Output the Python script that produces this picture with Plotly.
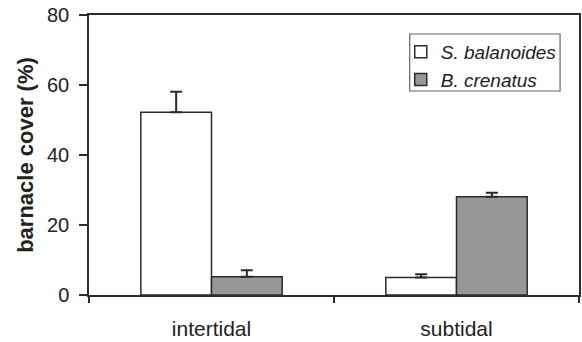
import plotly.graph_objects as go

categories = ["intertidal", "subtidal"]
s_balanoides = [52.2, 5.0]
s_balanoides_err = [5.9, 0.9]
b_crenatus = [5.2, 28.1]
b_crenatus_err = [1.9, 1.1]
y_ticks = [0, 20, 40, 60, 80]

line_col = "#2b2b2b"
font = "Liberation Sans, Arial, sans-serif"

fig = go.Figure()
fig.add_trace(go.Bar(
    x=categories, y=s_balanoides, name="S. balanoides",
    marker=dict(color="white", line=dict(color=line_col, width=1.5)),
    error_y=dict(type="data", array=s_balanoides_err, arrayminus=[0, 0], symmetric=False,
                 color=line_col, thickness=2, width=6),
))
fig.add_trace(go.Bar(
    x=categories, y=b_crenatus, name="B. crenatus",
    marker=dict(color="#979797", line=dict(color=line_col, width=1.5)),
    error_y=dict(type="data", array=b_crenatus_err, arrayminus=[0, 0], symmetric=False,
                 color=line_col, thickness=2, width=6),
))

fig.update_layout(
    width=582, height=342,
    margin=dict(l=89, r=1, t=15, b=47),
    paper_bgcolor="white", plot_bgcolor="white",
    barmode="group", bargap=0.423, bargroupgap=0,
    font=dict(family=font, size=20, color="#222"),
    showlegend=True,
    legend=dict(x=(402 - 89) / 492, y=(295 - 33) / 280, xanchor="left", yanchor="top",
                borderwidth=0, bgcolor="rgba(0,0,0,0)",
                font=dict(size=19, style="italic"),
                tracegroupgap=0, itemwidth=30),
    xaxis=dict(
        range=[-0.5, 1.5], showline=True, linecolor=line_col, linewidth=1.5,
        mirror=True, ticks="", showgrid=False, tickfont=dict(size=21),
        zeroline=False, ticklabelstandoff=14,
    ),
    yaxis=dict(
        range=[0, 80], tickvals=y_ticks, showline=True, linecolor=line_col, linewidth=1.5,
        mirror=True, ticks="outside", ticklen=8, tickwidth=1.5, tickcolor=line_col,
        showgrid=False, zeroline=False, tickfont=dict(size=20),
        title=dict(text="<b>barnacle cover (%)</b>", font=dict(size=22), standoff=7),
        ticklabelstandoff=6,
    ),
    shapes=[dict(type="rect", xref="paper", yref="paper",
                 x0=(411 - 89) / 492, x1=(562 - 89) / 492,
                 y0=(295 - 91) / 280, y1=(295 - 34) / 280,
                 line=dict(color="#666", width=1.2), fillcolor="rgba(0,0,0,0)", layer="below")],
)

# x-axis ticks at category boundaries via a secondary axis
fig.update_layout(xaxis2=dict(
    overlaying="x", range=[-0.5, 1.5], tickvals=[-0.5, 0.5, 1.5], ticktext=["", "", ""],
    ticks="outside", ticklen=7, tickwidth=1.5, tickcolor=line_col, showline=False,
    showgrid=False, zeroline=False, side="bottom", anchor="y",
))
fig.add_trace(go.Scatter(x=[None], y=[None], xaxis="x2", showlegend=False, hoverinfo="skip"))

fig.write_html("out.html")
